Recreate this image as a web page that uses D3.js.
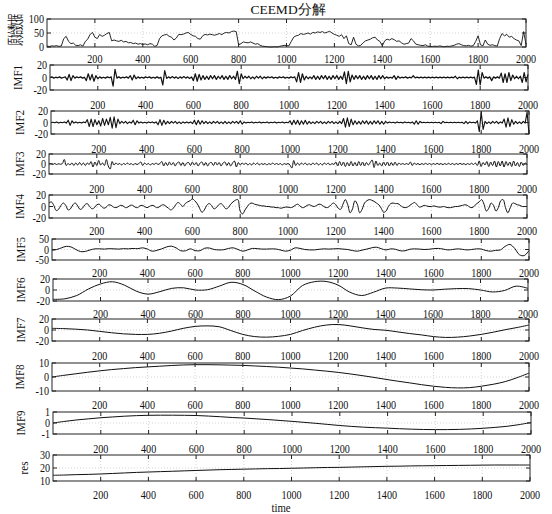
<!DOCTYPE html>
<html>
<head>
<meta charset="utf-8">
<script src="https://cdn.jsdelivr.net/npm/d3@7"></script>
<style>
  html, body { margin: 0; padding: 0; background: #fff; }
  svg { display: block; }
  text { font-family: "Liberation Serif", "Times New Roman", serif; fill: #111; }
</style>
</head>
<body>
<svg id="chart" width="552" height="514"></svg>
<script>
// ---------------- DATA ----------------
const xTicks = [200, 400, 600, 800, 1000, 1200, 1400, 1600, 1800, 2000];
const xDomain = [0, 2000];
const titleText = "CEEMD分解";
const xAxisTitle = "time";
const seriesNames = ["原始数据", "IMF1", "IMF2", "IMF3", "IMF4", "IMF5", "IMF6", "IMF7", "IMF8", "IMF9", "res"];

// raw data, sampled every 10 time units (0..2000)
const rawData = [3,2,4,3,5,2,4,30,38,20,12,14,6,5,8,3,20,28,45,52,35,30,45,38,42,48,52,22,25,22,
20,24,18,20,15,16,12,14,10,12,9,11,8,12,10,2,6,30,40,43,45,38,35,25,32,45,44,46,50,52,
45,40,38,30,28,40,45,43,46,44,42,45,48,44,50,52,50,55,57,55,8,12,18,16,15,18,14,10,12,6,
3,2,1,0,0,1,0,2,4,6,5,4,20,35,40,42,48,45,47,50,46,52,50,54,52,55,50,53,56,50,
45,42,38,44,30,40,12,8,35,10,4,6,15,22,25,28,33,35,25,20,5,22,28,25,30,26,20,22,15,10,
12,14,30,22,10,8,6,5,8,3,2,2,3,2,4,2,1,3,2,4,6,10,12,8,5,4,6,3,5,20,
40,8,4,25,10,6,8,5,3,30,48,40,45,35,38,30,25,22,5,55,10];

// IMF1, sampled every 8 units
const imf1 = [0,1,-1,0.5,-0.5,1,-1,0,1, -4,5,-5,3, -1,1,-0.5,1,-1,0.5, -5,6,-4,5,-6,3,-2,
1,-1,0.5,-1,1,-0.5,1, -14,13, -1,1,-1,0.5,-0.5,1,-1, 3,-4,4,-2,
1,-1,0.5,-1,1,-0.5,1,-1,0.5,-1,1,-1,0.5, -12,11,
-1.5,1,-1,1.5,-1,1,-1.5,1,-1,1.5,-1,1,-1.5,1, -5,6,-6,5,-4,3,
-3,2,-3,3,-2,3,-3,2,-2,3,-3,2,-3,3,-2,2,-3, 10,-10,6,
-2,2,-1,2,-2,1,-2,2,-1,2,-2,1, -1,1,-0.5,1,-1,0.5,-1,1,-0.5,1,-1,0.5,-1,1,-0.5,1,
-7,8,-8,6,-4, 2,-2,1,-2, 3,-3,2,-3,3,-2,3,-3,2,-3,3,-2,3,-3,2,-3, 9,-10,10,-7,4,
-3,3,-2,3,-3,2,-3,3,-2,3,-3,2,-3,3,-2,3,-2, 1,-1,0.5,-1, 3,-3,2, -1,0.5,-0.5,1,-1,0.5,-0.5, 3,
-0.5,0.5,-0.5,0.5,-0.5,0.5,-0.5,0.5,-0.5,0.5,-0.5,0.5,-0.5,0.5,-0.5,0.5,-0.5,0.5,-0.5,0.5,-0.5,2,-2,0.5,-0.5,0.5,-0.5,0.5,-0.5,0.5,-0.5,0.5,
-11,12,-12,8, -1,1,-1,1, -5, 1,-1,1,-1, 7,-8,6,-8,8,-5,4, -2,2,-2,2, -8,8,-7,5];

// IMF2, sampled every 8 units
const imf2 = [0,0.5,-0.5,1,-1,0.5,-0.5,1,-1, 4,-5,3, -1,1,-1,0.5,-1,1,-0.5, 5,-7,6,-7,5,-4,3,
-6,7,-5,6,-4, 9,-10,10,-9,6, -2,2,-1,2,-2,1,-1, 4,-4,3, -1,1,-1,0.5,-1,1,-0.5,1,-1,1,
-4,5,-5,4,-3, 2,-2,2,-1,2,-2,1,-2,1, -1,1,-1,1,-2,4,-4, 4,-3,3,-2,
2,-2,1,-2,2,-1,2,-2,1,-2,2,-2,1,-2,2,-1,2,-2,3,-3,
1,-1,0.5,-0.5,1,-1,0.5,-0.5,1,-1,0.5,-0.5,1,-1,0.5,-0.5,1,-1,0.5,-0.5,1,-1,0.5,-0.5,
3,-4,4,-3,4,-4,3,-3,4,-3, 2,-2,1,-2,2,-1,2,-2,1,-2,2,-1,2,-2,1,-2,2,-2,
7,-8,8,-7,6,-4, 3,-3,2,-3,3,-2,3,-3,2,-3,3,-2,3,-3,2,-3,2,
-1,1,-0.5,0.5,-1,1,-0.5,0.5,-1,1,-0.5,0.5,-1,1, -3,3,-3,2,
-0.5,0.5,-0.5,0.5,-0.5,0.5,-0.5,0.5,-0.5,0.5, -2,2, -0.5,0.5,-0.5,0.5,-0.5,0.5,-0.5,0.5,-0.5,0.5,
-2,2,-2,1, -0.5,0.5,-1,3, -16,18,-12, 2,-2,1,-2,2,-1,2,-2,1,-1, 6,-8,8,-7,5,-3, 2,-2,1,-2,2,-1, 18,-20];

// IMF3, sampled every 8 units
const imf3 = [0,1,-1,1,-1,0.5,-0.5,1, 9,-3,1, -2,2,-3,2,-2,3,-2,2,-3,2,-1, 5,-6,4,-3, 7,-2,2,-3,
9,-4,-10,5,-2, 2,-1,1,-2,1,-1,2,-1,1,-2,1,-1,1, 4,-3,2, -1,1,-2,1,-1,2,-1,1, 5,-4,3,
-3,4,-2,3,-4,2,4,-3,3,-4,2,3,-3,4,-2,3,-4,2,4,-3,3,-4,2,3,-3,4,-2,3,-4,2,4,-3,3,-4,2,
6,-6,3, -2,2,-1,2,-2,1,-2,2,-1,2,-2,1,-1,1,-2,1,-1,2,-1,1,-1,1,-2,1,-1,1,
-2,-8,7,-3,2, -2,2,-1,2,-2,1,-2,2,-1,2,-2,1,-2,2,-1,2,-2,1,-1,
4,-4,5,-3,4,-5,3,-4,5,-4,3,-4,5,-3,4,-4,3,-2, 3,8,-7,6,-3,2,
-4,4,-3,4,-4,3,-3,4,-3,2, -1,1,-1,1,-1, 4,-3,2,
-1,1,-1.5,1,-1,1.5,-1,1,-1.5,1,-1,1.5,-1,1,-1.5,1,-1,1.5,-1,1,-1.5,1,-1,1.5,-1,1,-1.5,1,-1,1.5,-1,
2,-3,6,-5,3,-2, 5,-5,4,-3,6,-6,5,-4,6,-6,5,-3,4,-5,6,-4,3,-5,4,-3,2,-1];

// IMF4, sampled every 10 units
const imf4 = [6,8,2,-7,-5,2,6,2,-6,-4,3,6,1,-5,-3,3,5,0,-4,-2,
3,4,0,-3,-1,3,2,-1,-2,0,2,1,-2,-1,2,2,-1,-2,1,2,
0,-2,0,2,1,-2,-1,2,3,0,-3,-6,-3,3,7,4,0,5,8,10,
13,10,5,-3,-10,-6,2,5,2,-4,-2,3,5,1,-4,-2,4,8,11,12,
-8,-13,-6,0,5,6,4,3,2,1,1,0,0,-1,-1,-2,-2,-3,-2,-1,
-1,-2,-1,2,4,1,-2,-1,2,3,1,0,2,4,3,0,-2,-1,3,6,
3,-3,-5,4,12,3,-11,-4,10,4,-11,-5,6,10,12,11,9,6,3,-3,
-10,-8,0,5,6,5,5,2,-1,-2,-1,2,5,7,3,-1,0,2,1,0,
0,1,0,-1,-1,0,-1,-2,-2,-1,0,0,1,2,3,2,-1,-2,1,5,
8,12,4,-8,-3,6,2,-8,-2,10,12,-2,-11,-2,6,5,3,2,0,0,0];

// IMF5, sampled every 20 units
const imf5 = [-4,0,8,15,12,0,-10,-9,-2,3,3,2,4,3,2,4,3,5,4,8,
2,-8,-4,3,12,16,8,-6,-6,3,-5,-6,6,7,0,-2,-1,5,8,0,
-8,-2,5,4,2,2,3,2,-3,-8,-3,8,5,0,-2,-2,1,3,2,3,
4,2,0,-5,-8,-3,2,8,11,4,-2,3,1,-6,-6,1,3,2,0,1,
4,5,2,-2,0,3,1,-2,0,3,2,-5,-8,-4,-2,15,24,5,-25,-29,-5];

// IMF6 .. res, sampled every 50 units
const imf6 = [-17,-16,-10,2,11,15,9,-2,-7.5,-3,3,4,0,0.5,7,14,10,-2,-13,-17.5,
-11,8,15,15.5,9,-4,-10,-4,3.5,3.5,2,0.5,0,1.5,2.5,2.5,0,-3.5,-1,7,3];
const imf7 = [3,2.5,1.5,0,-2.5,-5,-7,-8,-8,-6,-2,3,6.5,7.5,6,-1,-8,-12,-13,-11.5,
-8,-1,5,9,10,7.5,4,1,-0.5,-3.5,-6.5,-9,-12,-13.5,-13,-11,-8,-4,0.5,4.5,9];
const imf8 = [0,1.2,2.3,3.4,4.4,5.3,6,6.7,7.2,7.7,8.2,8.6,8.8,8.8,8.7,8.5,8.3,7.9,7.5,7,
6.4,5.8,5,4.2,3.3,2.2,1,-0.3,-1.7,-3,-4.2,-5.5,-6.6,-7.4,-7.8,-7.6,-6.6,-5.2,-3.3,-0.5,2.8];
const imf9 = [0,0.15,0.28,0.38,0.48,0.55,0.62,0.67,0.7,0.71,0.71,0.7,0.68,0.63,0.57,0.5,0.45,0.38,0.31,0.23,
0.15,0.06,-0.03,-0.13,-0.23,-0.31,-0.38,-0.43,-0.47,-0.52,-0.56,-0.59,-0.6,-0.6,-0.58,-0.54,-0.48,-0.4,-0.3,-0.15,0.05];
const resData = [14.4,14.6,14.9,15.1,15.4,15.8,16.2,16.6,16.9,17.2,17.5,17.8,18.1,18.4,18.7,18.9,19.1,19.3,19.5,19.6,
19.8,20,20.2,20.4,20.5,20.7,20.9,21.1,21.3,21.4,21.6,21.7,21.8,21.9,22,22.1,22.2,22.3,22.3,22.3,22.3];

// y axis ranges and ticks for each panel
const yDomains = [[0,100],[-20,20],[-20,20],[-20,20],[-20,20],[-50,50],[-20,20],[-20,20],[-10,10],[-1,1],[10,30]];
const yTickSets = [[0,50,100],[-20,0,20],[-20,0,20],[-20,0,20],[-20,0,20],[-50,0,50],[-20,0,20],[-20,0,20],[-10,0,10],[-1,0,1],[10,20,30]];

// ---------------- LAYOUT ----------------
const seriesList = [rawData, imf1, imf2, imf3, imf4, imf5, imf6, imf7, imf8, imf9, resData];
const boxes = [ // [left, right, top, bottom]
  [47,526,19,47],[50,528,65,90],[51,529,111,134],[49,527,154,174],[49,527,195,218],
  [52,529,239,260],[53,528,279,301],[52,529,319,341],[52,529,363,391],[53,531,412,434],[53,530,455,481]
];
const labelX = [14.5,18,20,20,20,21,21,21,20,21,24];
const xLabelOffset = [16,19,19,19,17,17,17,19,18,19,18];
const smooth = [false,false,false,true,true,true,true,true,true,true,true];
const lineW = [0.9,1.2,1.1,1,1,1,1,1,1,1,1];

const svg = d3.select("#chart");
const TICKFS = 13, TICKSX = 0.78;

function sText(g, x, y, str, anchor, fs, sx, rot) {
  return g.append("text")
    .attr("transform", `translate(${x},${y})` + (rot ? " rotate(-90)" : "") + ` scale(${sx},1)`)
    .attr("text-anchor", anchor)
    .attr("font-size", fs)
    .text(str);
}

seriesList.forEach((vals, k) => {
  const [L, R, T, B] = boxes[k];
  const x = d3.scaleLinear().domain(xDomain).range([L, R]);
  const y = d3.scaleLinear().domain(yDomains[k]).range([B, T]);
  const g = svg.append("g");

  // grid
  g.selectAll(".gx").data(xTicks.filter(v => v < xDomain[1])).enter().append("line")
    .attr("x1", d => x(d)).attr("x2", d => x(d)).attr("y1", T).attr("y2", B)
    .attr("stroke", "#c8c8c8").attr("stroke-width", 0.8).attr("stroke-dasharray", "1,2");
  g.selectAll(".gy").data(yTickSets[k].filter(v => v > yDomains[k][0] && v < yDomains[k][1])).enter().append("line")
    .attr("x1", L).attr("x2", R).attr("y1", d => y(d)).attr("y2", d => y(d))
    .attr("stroke", "#c8c8c8").attr("stroke-width", 0.8).attr("stroke-dasharray", "1,2");

  // line
  const n = vals.length;
  const step = (xDomain[1] - xDomain[0]) / (n - 1);
  const pts = vals.map((v, i) => [xDomain[0] + i * step, v]);
  const line = d3.line().x(d => x(d[0])).y(d => y(d[1]))
    .curve(smooth[k] ? d3.curveCatmullRom.alpha(0.5) : d3.curveLinear);
  g.append("path").datum(pts).attr("d", line)
    .attr("fill", "none").attr("stroke", "#111").attr("stroke-width", lineW[k])
    .attr("stroke-linejoin", "round");

  // frame
  g.append("rect").attr("x", L).attr("y", T).attr("width", R - L).attr("height", B - T)
    .attr("fill", "none").attr("stroke", "#222").attr("stroke-width", 1);

  // ticks (inward, top & bottom, left & right)
  xTicks.forEach(v => {
    g.append("line").attr("x1", x(v)).attr("x2", x(v)).attr("y1", B).attr("y2", B - 4).attr("stroke", "#222");
    g.append("line").attr("x1", x(v)).attr("x2", x(v)).attr("y1", T).attr("y2", T + 4).attr("stroke", "#222");
    sText(g, x(v), B + xLabelOffset[k], String(v), "middle", TICKFS, TICKSX, false);
  });
  yTickSets[k].forEach(v => {
    g.append("line").attr("x1", L).attr("x2", L + 4).attr("y1", y(v)).attr("y2", y(v)).attr("stroke", "#222");
    g.append("line").attr("x1", R).attr("x2", R - 4).attr("y1", y(v)).attr("y2", y(v)).attr("stroke", "#222");
    sText(g, L - 3, y(v) + 4, String(v), "end", TICKFS, TICKSX, false);
  });

  // y label
  const isCJK = /[\u4e00-\u9fff]/.test(seriesNames[k]);
  sText(g, labelX[k] + (isCJK ? 6 : 4), (T + B) / 2 - (isCJK ? 3 : 0), seriesNames[k], "middle",
        isCJK ? 17 : 13, isCJK ? 0.48 : 0.85, true).attr("fill", isCJK ? "#444" : "#111");
});

// title and x-axis title
svg.append("text").attr("x", 288).attr("y", 14).attr("text-anchor", "middle")
  .attr("font-size", 13.5).text(titleText);
sText(svg, 281, 512, xAxisTitle, "middle", 12, 0.9, false);
</script>
</body>
</html>
